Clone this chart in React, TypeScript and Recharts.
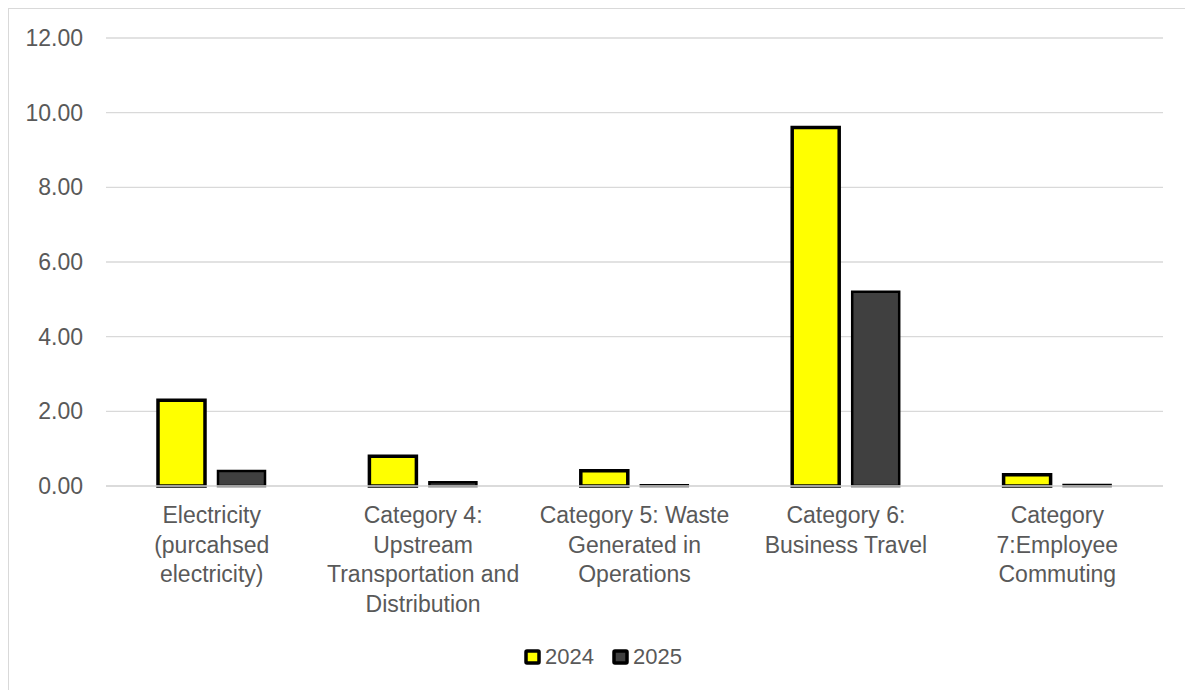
import React from "react";
import { BarChart, Bar, XAxis, YAxis, CartesianGrid, Legend } from "recharts";

// Emission categories (line breaks mark where each label wraps)
const categories: string[] = [
  "Electricity\n(purcahsed\nelectricity)",
  "Category 4:\nUpstream\nTransportation and\nDistribution",
  "Category 5: Waste\nGenerated in\nOperations",
  "Category 6:\nBusiness Travel",
  "Category\n7:Employee\nCommuting",
];

const values2024: number[] = [2.3, 0.8, 0.41, 9.6, 0.3];
const values2025: number[] = [0.4, 0.1, 0.02, 5.2, 0.03];

const yTicks: number[] = [0, 2, 4, 6, 8, 10, 12];

const seriesNames = ["2024", "2025"];
const seriesColors = ["#FFFF00", "#404040"];

const data = categories.map((c, i) => ({
  category: c,
  y2024: values2024[i],
  y2025: values2025[i],
}));

const FONT = '"Liberation Sans", Arial, sans-serif';
const TEXT = "#595959";

const CategoryTick = (props: any) => {
  const { x, y, payload } = props;
  const lines = String(payload.value).split("\n");
  return (
    <text x={x} y={y} textAnchor="middle" fill={TEXT} fontSize={23} fontFamily={FONT}>
      {lines.map((line, i) => (
        <tspan key={i} x={x} y={y + 37 + i * 29.7}>
          {line}
        </tspan>
      ))}
    </text>
  );
};

const LegendContent = () => (
  <div
    style={{
      display: "flex",
      alignItems: "center",
      height: 30,
      paddingLeft: 524,
      fontFamily: FONT,
      fontSize: 22,
      color: TEXT,
    }}
  >
    {seriesNames.map((name, i) => (
      <div key={name} style={{ display: "flex", alignItems: "center", marginRight: 18 }}>
        <svg width={17} height={16} style={{ marginRight: 4 }}>
          <rect x={2} y={2} width={13} height={12} rx={1} fill={seriesColors[i]} stroke="#000" strokeWidth={3.5} />
        </svg>
        <span style={{ lineHeight: "30px" }}>{name}</span>
      </div>
    ))}
  </div>
);

export default function App() {
  return (
    <div style={{ position: "relative", width: 1185, height: 690, overflow: "hidden", background: "#fff" }}>
      <style>{`html,body{margin:0;padding:0;overflow:hidden;background:#fff}`}</style>
      <div
        style={{
          position: "absolute",
          left: 8,
          top: 8,
          width: 1200,
          height: 700,
          border: "1px solid #d9d9d9",
        }}
      />
      <div style={{ position: "absolute", left: 0, top: 0 }}>
        <BarChart
          width={1185}
          height={690}
          data={data}
          margin={{ top: 38, right: 22, left: 0, bottom: 18 }}
          barSize={47}
          barGap={13}
        >
          <CartesianGrid vertical={false} stroke="#d9d9d9" strokeWidth={1.3} />
          <XAxis
            dataKey="category"
            interval={0}
            height={156}
            tickLine={false}
            tickSize={0}
            tickMargin={0}
            axisLine={{ stroke: "#d9d9d9", strokeWidth: 1.3 }}
            tick={<CategoryTick />}
          />
          <YAxis
            width={106}
            domain={[0, 12]}
            ticks={yTicks}
            axisLine={false}
            tickLine={false}
            tickSize={0}
            tickMargin={23}
            tickFormatter={(v: number) => v.toFixed(2)}
            tick={{ fill: TEXT, fontSize: 23, fontFamily: FONT }}
          />
          <Legend
            verticalAlign="bottom"
            height={30}
            wrapperStyle={{ left: 0, width: 1185 }}
            content={<LegendContent />}
          />
          <Bar dataKey="y2024" name="2024" fill={seriesColors[0]} stroke="#000" strokeWidth={3.5} isAnimationActive={false} />
          <Bar dataKey="y2025" name="2025" fill={seriesColors[1]} stroke="#000" strokeWidth={2.5} isAnimationActive={false} />
        </BarChart>
      </div>
    </div>
  );
}
